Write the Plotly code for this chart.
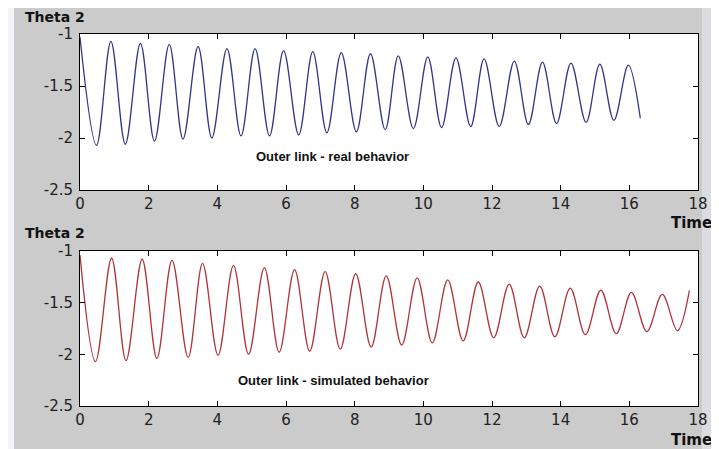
import plotly.graph_objects as go

# ---- data (extrema of each oscillation) ----
real_time = [0.0, 0.48, 0.90, 1.32, 1.76, 2.17, 2.60, 3.00, 3.44, 3.84, 4.28, 4.69,
             5.10, 5.52, 5.93, 6.37, 6.78, 7.19, 7.61, 8.05, 8.46, 8.89, 9.27, 9.71,
             10.13, 10.53, 10.95, 11.38, 11.77, 12.21, 12.65, 13.06, 13.47, 13.88,
             14.30, 14.74, 15.14, 15.55, 15.97, 16.32]
real_theta2 = [-1.03, -2.07, -1.07, -2.06, -1.09, -2.03, -1.10, -2.01, -1.12, -2.00,
               -1.14, -1.98, -1.14, -1.98, -1.16, -1.97, -1.17, -1.95, -1.18, -1.94,
               -1.19, -1.92, -1.21, -1.91, -1.22, -1.90, -1.23, -1.89, -1.24, -1.89,
               -1.26, -1.87, -1.27, -1.86, -1.28, -1.85, -1.29, -1.83, -1.30, -1.81]

sim_time = [0.0, 0.45, 0.92, 1.34, 1.81, 2.24, 2.68, 3.15, 3.57, 4.02, 4.47, 4.91,
            5.37, 5.80, 6.25, 6.69, 7.14, 7.58, 8.03, 8.48, 8.92, 9.37, 9.82, 10.26,
            10.71, 11.16, 11.60, 12.05, 12.50, 12.94, 13.39, 13.83, 14.28, 14.72,
            15.17, 15.62, 16.06, 16.51, 16.96, 17.40, 17.75]
sim_theta2 = [-1.04, -2.07, -1.07, -2.06, -1.08, -2.04, -1.09, -2.03, -1.12, -2.01,
              -1.14, -2.00, -1.16, -1.98, -1.18, -1.97, -1.20, -1.95, -1.22, -1.93,
              -1.24, -1.91, -1.26, -1.89, -1.28, -1.87, -1.30, -1.84, -1.32, -1.84,
              -1.34, -1.83, -1.36, -1.81, -1.38, -1.80, -1.40, -1.78, -1.42, -1.77,
              -1.38]

x_tick_values = [0, 2, 4, 6, 8, 10, 12, 14, 16, 18]
x_tick_labels = ["0", "2", "4", "6", "8", "10", "12", "14", "16", "18"]
y_tick_values = [-1, -1.5, -2, -2.5]
y_tick_labels = ["-1", "-1.5", "-2", "-2.5"]

top_label = "Outer link - real behavior"
bottom_label = "Outer link - simulated behavior"
y_title = "Theta 2"
x_title = "Time"

# ---- figure (page body has an 8px margin, so figure px = page px - 8) ----
OFF = 8
W, H = 719 - OFF, 449 - OFF
ML, MR, MT, MB = 80 - OFF, 21, 34 - OFF, 43
plot_w = W - ML - MR
plot_h = H - MT - MB

def px_x(p):
    return (p - OFF - ML) / plot_w

def px_y(p):
    return 1 - (p - OFF - MT) / plot_h

FONT = "Liberation Sans, Arial, Helvetica, sans-serif"
WIDE = "DejaVu Sans, Verdana, sans-serif"

fig = go.Figure()
fig.add_trace(go.Scatter(x=real_time, y=real_theta2, mode="lines",
                         line=dict(color="#34348a", width=1.3, shape="spline", smoothing=1.0),
                         xaxis="x", yaxis="y", showlegend=False, hoverinfo="skip"))
fig.add_trace(go.Scatter(x=sim_time, y=sim_theta2, mode="lines",
                         line=dict(color="#b0343a", width=1.3, shape="spline", smoothing=1.0),
                         xaxis="x2", yaxis="y2", showlegend=False, hoverinfo="skip"))

axis_common = dict(showline=True, linecolor="black", linewidth=1, mirror="ticks",
                   ticks="inside", ticklen=5, tickcolor="black", showgrid=False,
                   zeroline=False, tickfont=dict(family=WIDE, size=15, color="#222222"))

top_dom = [px_y(190), px_y(34)]
bot_dom = [px_y(406), px_y(251)]

fig.update_layout(
    width=W, height=H,
    margin=dict(l=ML, r=MR, t=MT, b=MB),
    paper_bgcolor="#cbcbcb", plot_bgcolor="white",
    xaxis=dict(range=[0, 18], domain=[0, 1], anchor="y", tickvals=x_tick_values,
               ticktext=x_tick_labels, **axis_common),
    yaxis=dict(range=[-2.5, -1], domain=top_dom, anchor="x", tickvals=y_tick_values,
               ticktext=y_tick_labels, ticklabelstandoff=3, **axis_common),
    xaxis2=dict(range=[0, 18], domain=[0, 1], anchor="y2", tickvals=x_tick_values,
                ticktext=x_tick_labels, **axis_common),
    yaxis2=dict(range=[-2.5, -1], domain=bot_dom, anchor="x2", tickvals=y_tick_values,
                ticktext=y_tick_labels, ticklabelstandoff=3, **axis_common),
)

# light page strips around the grey figure area
fig.add_shape(type="rect", xref="paper", yref="paper", x0=px_x(0), x1=px_x(14),
              y0=px_y(460), y1=px_y(0), fillcolor="#f4f4f8", line_width=0, layer="below")
fig.add_shape(type="rect", xref="paper", yref="paper", x0=px_x(702), x1=px_x(725),
              y0=px_y(460), y1=px_y(0), fillcolor="#dcdce0", line_width=0, layer="below")

bold = dict(family=FONT, size=13, color="#111111")
title_font = dict(family=WIDE, size=14, color="#111111")
for ytitle_top_px in (8, 224):
    fig.add_annotation(text="<b>" + y_title + "</b>", xref="paper", yref="paper",
                       x=px_x(24), y=px_y(ytitle_top_px), xanchor="left", yanchor="top",
                       showarrow=False, font=title_font, borderpad=0)
for xt_px in (223, 440):
    fig.add_annotation(text="<b>" + x_title + "</b>", xref="paper", yref="paper",
                       x=px_x(714), y=px_y(xt_px), xanchor="right", yanchor="middle",
                       showarrow=False, font=dict(family=WIDE, size=15, color="#111111"))

fig.add_annotation(text="<b>" + top_label + "</b>", xref="x", yref="y", x=7.34, y=-2.18,
                   showarrow=False, font=bold)
fig.add_annotation(text="<b>" + bottom_label + "</b>", xref="x2", yref="y2", x=7.37, y=-2.25,
                   showarrow=False, font=bold)

fig.write_html("out.html")
